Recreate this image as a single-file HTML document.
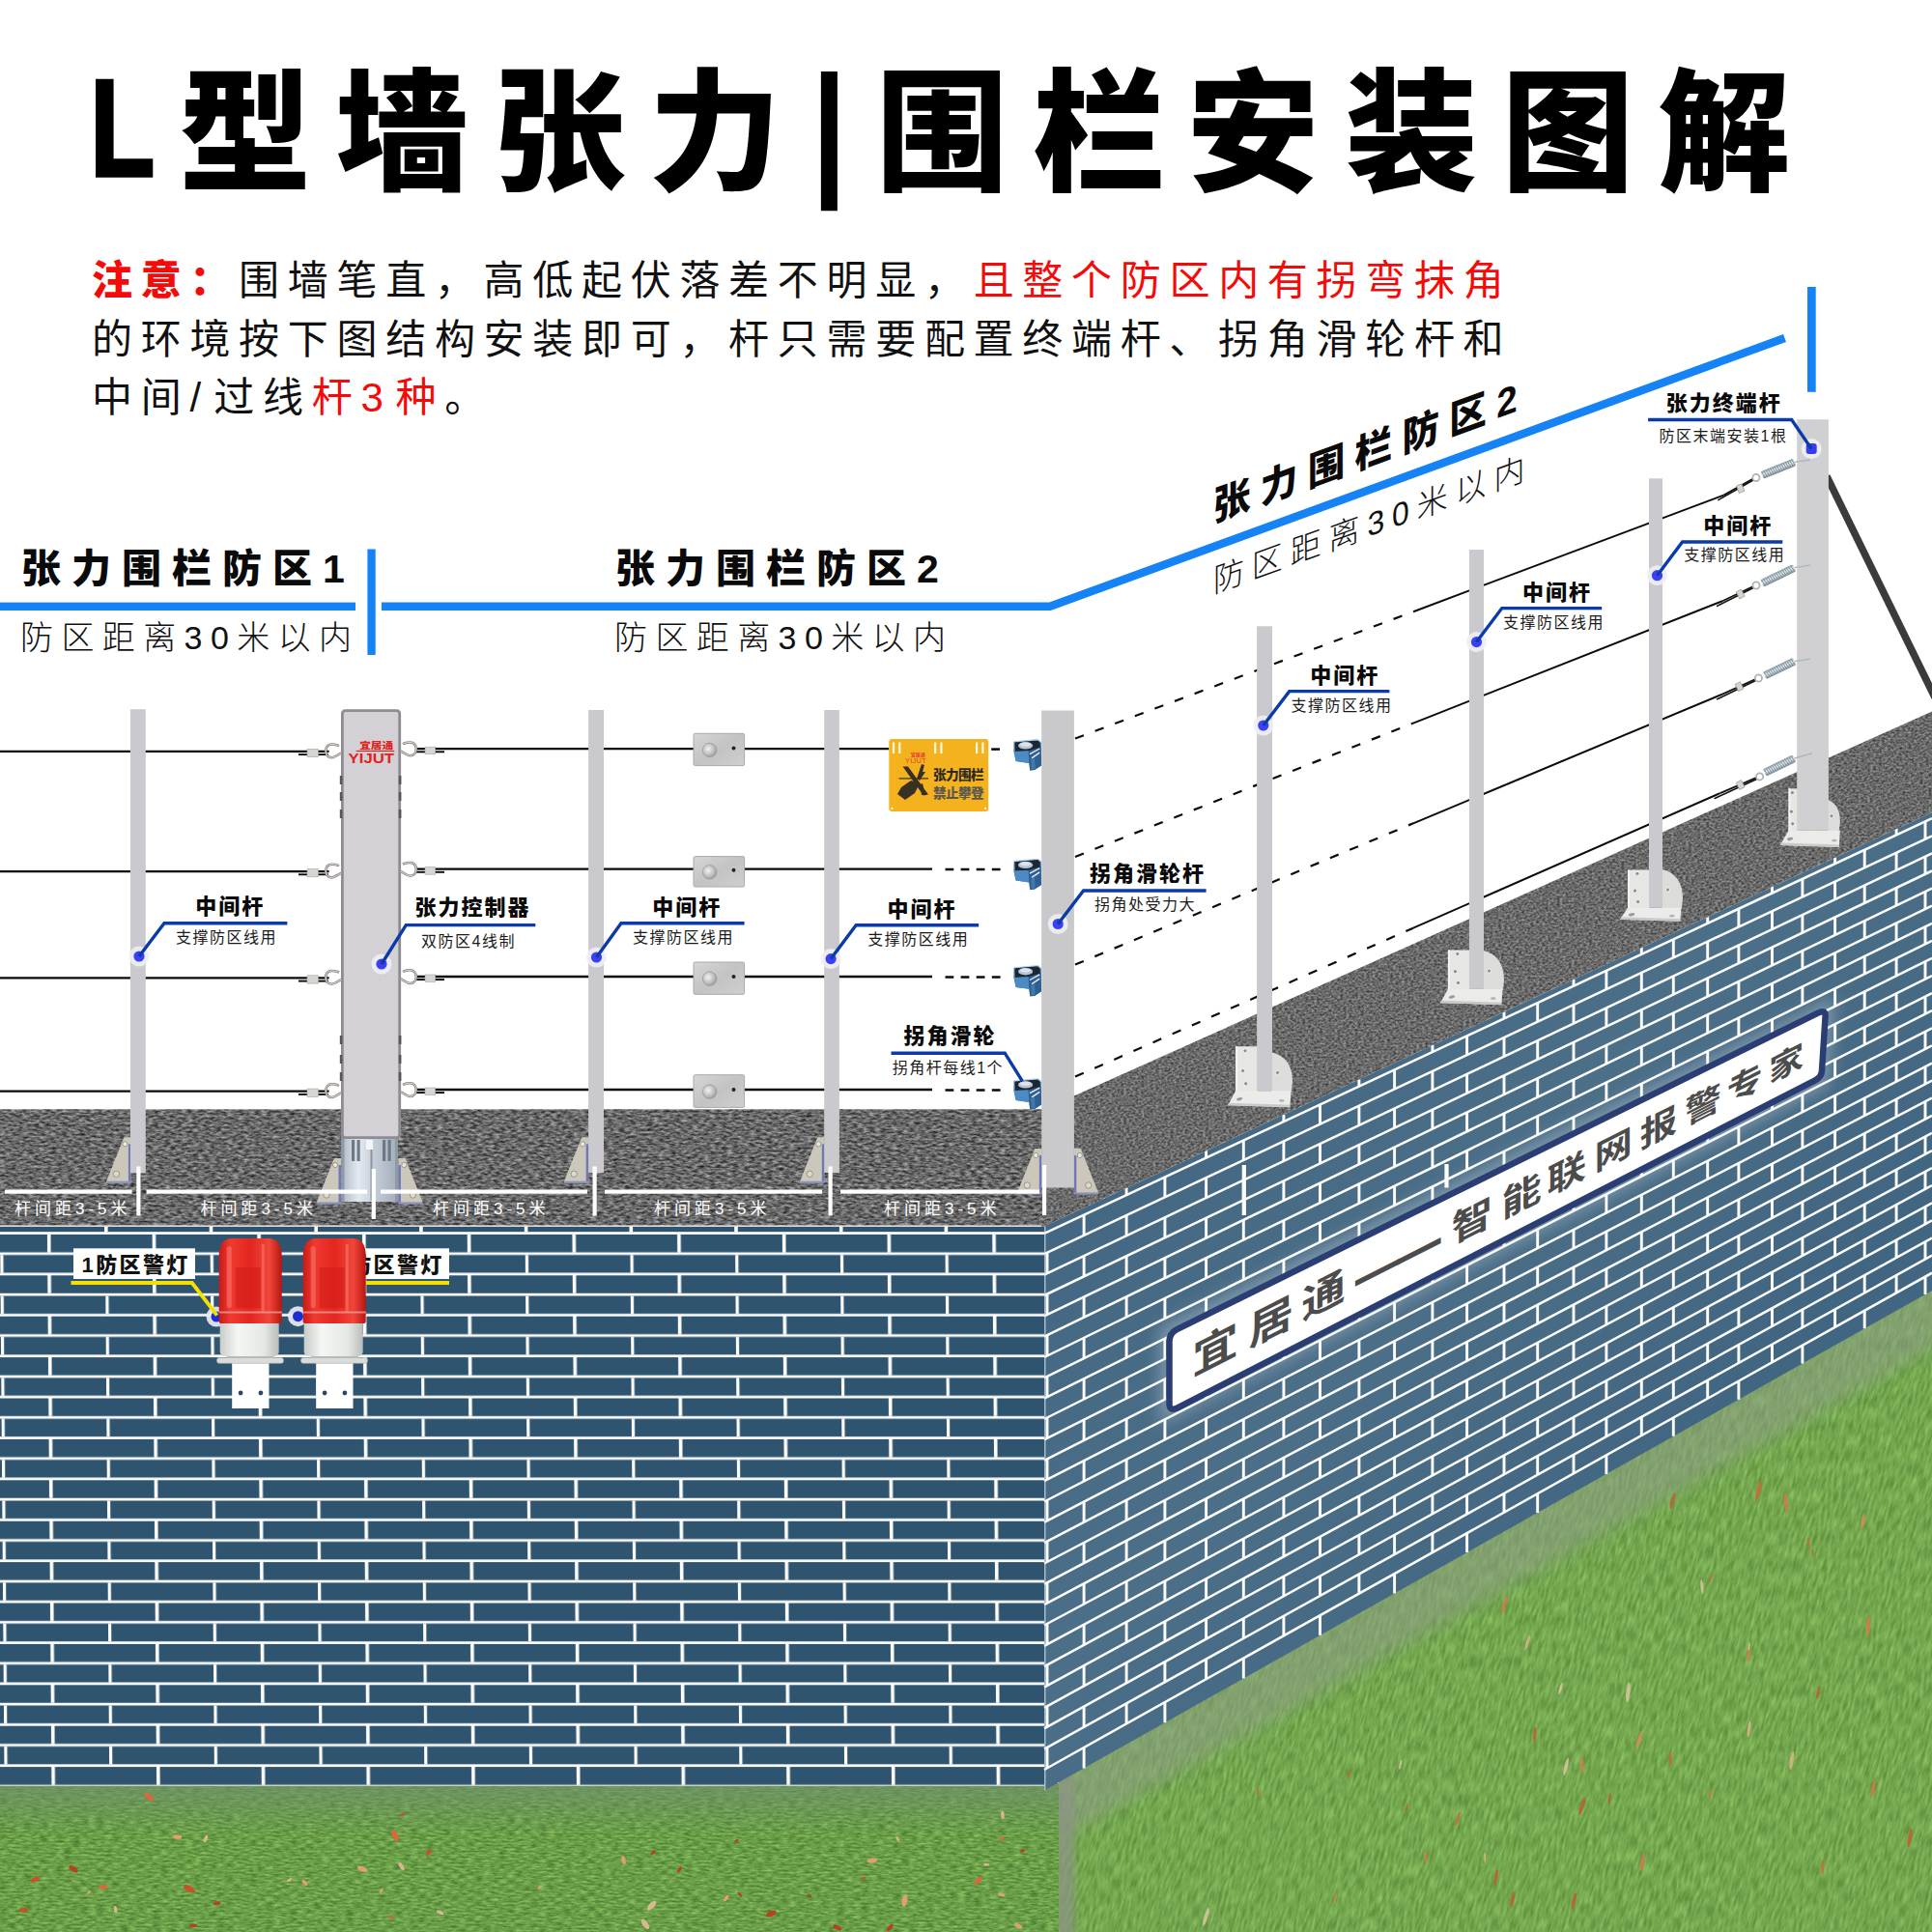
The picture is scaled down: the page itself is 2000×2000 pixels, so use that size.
<!DOCTYPE html>
<html lang="zh-CN">
<head>
<meta charset="utf-8">
<title>L型墙张力围栏安装图解</title>
<style>
html,body{margin:0;padding:0;background:#fff;}
body{width:2000px;height:2000px;overflow:hidden;font-family:'Liberation Sans','Noto Sans CJK SC',sans-serif;}
svg{display:block;}
text{font-family:'Liberation Sans','Noto Sans CJK SC',sans-serif;}
.b{font-weight:700;}
.k{font-weight:900;}
</style>
</head>
<body>
<svg width="2000" height="2000" viewBox="0 0 2000 2000">
<defs>

<pattern id="brick" x="1.1" y="1277.9" width="108.7" height="42.4" patternUnits="userSpaceOnUse" patternTransform="matrix(1,0,0.0079,1,-10.1,0)">
<rect width="108.7" height="42.4" fill="#2e546f"/>
<rect x="0" y="18.5" width="108.7" height="2.7" fill="#fff"/>
<rect x="0" y="39.699999999999996" width="108.7" height="2.7" fill="#fff"/>
<rect x="47.8" y="0" width="3.6" height="18.5" fill="#fff"/>
<rect x="-1" y="21.2" width="3.2" height="18.5" fill="#fff"/>
<rect x="107.7" y="21.2" width="3.2" height="18.5" fill="#fff"/>
</pattern>
<filter id="asph" x="0" y="0" width="100%" height="100%" color-interpolation-filters="sRGB">
<feTurbulence type="fractalNoise" baseFrequency="0.17 0.42" numOctaves="3" seed="7" result="n"/>
<feColorMatrix in="n" type="matrix" values="0.8 0 0 0 0.01  0.8 0 0 0 0.01  0.8 0 0 0 0.01  0 0 0 0 1" result="g"/>
<feComposite in="g" in2="SourceGraphic" operator="in"/>
</filter>
<filter id="asph2" x="0" y="0" width="100%" height="100%" color-interpolation-filters="sRGB">
<feTurbulence type="fractalNoise" baseFrequency="0.33 0.5" numOctaves="2" seed="9" result="n"/>
<feColorMatrix in="n" type="matrix" values="0.6 0 0 0 0.115  0.6 0 0 0 0.115  0.6 0 0 0 0.115  0 0 0 0 1" result="g"/>
<feComposite in="g" in2="SourceGraphic" operator="in"/>
</filter>
<filter id="grassL" x="0" y="0" width="100%" height="100%" color-interpolation-filters="sRGB">
<feTurbulence type="fractalNoise" baseFrequency="0.12 0.5" numOctaves="3" seed="3" result="n"/>
<feColorMatrix in="n" type="matrix" values="0.4 0 0 0 0.215  0.42 0 0 0 0.41  0.3 0 0 0 0.13  0 0 0 0 1" result="g"/>
<feComposite in="g" in2="SourceGraphic" operator="in"/>
</filter>
<filter id="grassR" x="0" y="0" width="100%" height="100%" color-interpolation-filters="sRGB">
<feTurbulence type="fractalNoise" baseFrequency="0.35 0.07" numOctaves="3" seed="11" result="n"/>
<feColorMatrix in="n" type="matrix" values="0.28 0 0 0 0.315  0.3 0 0 0 0.505  0.22 0 0 0 0.2  0 0 0 0 1" result="g"/>
<feComposite in="g" in2="SourceGraphic" operator="in"/>
</filter>
<filter id="blur3"><feGaussianBlur stdDeviation="3"/></filter>
<filter id="blur8"><feGaussianBlur stdDeviation="8"/></filter>
<linearGradient id="fadeT" x1="0" y1="0" x2="0" y2="1"><stop offset="0" stop-color="#6f8f6a" stop-opacity="0.75"/><stop offset="1" stop-color="#6f8f6a" stop-opacity="0"/></linearGradient>
<linearGradient id="sheen" x1="0" y1="0" x2="1" y2="1"><stop offset="0" stop-color="#fff" stop-opacity="0"/><stop offset="0.45" stop-color="#fff" stop-opacity="0.09"/><stop offset="0.7" stop-color="#fff" stop-opacity="0.03"/><stop offset="1" stop-color="#fff" stop-opacity="0.08"/></linearGradient>
<linearGradient id="grassLg" x1="0" y1="0" x2="0" y2="1">
<stop offset="0" stop-color="#5b8f3c"/><stop offset="0.25" stop-color="#6aa43a"/><stop offset="1" stop-color="#6fa93a"/>
</linearGradient>
<linearGradient id="grassRg" x1="0" y1="0" x2="1" y2="1">
<stop offset="0" stop-color="#7fa75c"/><stop offset="0.5" stop-color="#79ad47"/><stop offset="1" stop-color="#7db046"/>
</linearGradient>
<linearGradient id="dome" x1="0" y1="0" x2="1" y2="0">
<stop offset="0" stop-color="#c81a14"/><stop offset="0.18" stop-color="#ef3a30"/><stop offset="0.5" stop-color="#e3261f"/><stop offset="0.8" stop-color="#f0463a"/><stop offset="1" stop-color="#b81510"/>
</linearGradient>
<linearGradient id="lbase" x1="0" y1="0" x2="1" y2="0">
<stop offset="0" stop-color="#c9cdca"/><stop offset="0.3" stop-color="#f4f6f4"/><stop offset="0.75" stop-color="#e4e8e5"/><stop offset="1" stop-color="#b9bdba"/>
</linearGradient>
<linearGradient id="alu" x1="0" y1="0" x2="1" y2="0">
<stop offset="0" stop-color="#aeb9c6"/><stop offset="0.3" stop-color="#e3e9ef"/><stop offset="0.6" stop-color="#c3ccd6"/><stop offset="1" stop-color="#a3adba"/>
</linearGradient>
<linearGradient id="plate" x1="0" y1="0" x2="1" y2="1">
<stop offset="0" stop-color="#d6d6d6"/><stop offset="0.5" stop-color="#c3c3c3"/><stop offset="1" stop-color="#cfcfcf"/>
</linearGradient>
<radialGradient id="bolt" cx="0.4" cy="0.4" r="0.7">
<stop offset="0" stop-color="#f2f2f2"/><stop offset="0.6" stop-color="#bdbdbd"/><stop offset="1" stop-color="#8e8e8e"/>
</radialGradient>
<linearGradient id="spring" x1="0" y1="0" x2="0" y2="1">
<stop offset="0" stop-color="#8fa3ad"/><stop offset="0.45" stop-color="#e4edf1"/><stop offset="1" stop-color="#7b8c95"/>
</linearGradient>
</defs>

<rect width="2000" height="2000" fill="#fff"/>
<g id="grass">
<rect x="0" y="1846" width="1100" height="154" fill="#6aa43a" filter="url(#grassL)"/>
<rect x="0" y="1846" width="1100" height="55" fill="url(#fadeT)"/>
<clipPath id="cpR"><polygon points="1096,1843.2 2000,1334 2000,2000 1096,2000"/></clipPath>
<g clip-path="url(#cpR)"><g transform="translate(1096,2000) skewX(-14)"><rect x="-200" y="-700" width="1200" height="700" fill="#74ad46" filter="url(#grassR)"/></g></g>
<g clip-path="url(#cpR)"><polygon points="1090,1838.5 2010,1320.4 2010,1390.4 1090,1908.5" fill="#8f9d8a" opacity="0.55" filter="url(#blur8)"/>
<rect x="1090" y="1840" width="22" height="170" fill="#8b9484" opacity="0.75" filter="url(#blur3)"/></g>
</g>
<g id="leaves">
<ellipse cx="674.6" cy="1972.7" rx="6.3" ry="2.8" fill="#d8b890" transform="rotate(133.2 674.6 1972.7)"/>
<ellipse cx="36.2" cy="1945.6" rx="5.1" ry="2.3" fill="#c8502a" transform="rotate(162.2 36.2 1945.6)"/>
<ellipse cx="404.7" cy="1985.1" rx="2.9" ry="1.3" fill="#d9683a" transform="rotate(44.9 404.7 1985.1)"/>
<ellipse cx="443.8" cy="1917.8" rx="4.1" ry="1.8" fill="#c8502a" transform="rotate(137.1 443.8 1917.8)"/>
<ellipse cx="154.2" cy="1860.2" rx="6" ry="2.7" fill="#d9683a" transform="rotate(37.7 154.2 1860.2)"/>
<ellipse cx="1037.1" cy="1903.3" rx="3.3" ry="1.5" fill="#d9683a" transform="rotate(157.7 1037.1 1903.3)"/>
<ellipse cx="200.3" cy="1993.2" rx="4" ry="1.8" fill="#b8401f" transform="rotate(3.9 200.3 1993.2)"/>
<ellipse cx="183.4" cy="1901.6" rx="4.9" ry="2.2" fill="#e0a070" transform="rotate(0.6 183.4 1901.6)"/>
<ellipse cx="76" cy="1934.8" rx="5.3" ry="2.4" fill="#b8401f" transform="rotate(33.3 76 1934.8)"/>
<ellipse cx="762.5" cy="1905.6" rx="2.6" ry="1.2" fill="#b8401f" transform="rotate(135 762.5 1905.6)"/>
<ellipse cx="24.4" cy="1977.2" rx="4.8" ry="2.2" fill="#c8502a" transform="rotate(1.6 24.4 1977.2)"/>
<ellipse cx="765.8" cy="1961.1" rx="3" ry="1.3" fill="#b8401f" transform="rotate(44.3 765.8 1961.1)"/>
<ellipse cx="375.2" cy="1934.8" rx="5.6" ry="2.5" fill="#e0a070" transform="rotate(19.4 375.2 1934.8)"/>
<ellipse cx="929.2" cy="1903.6" rx="2.9" ry="1.3" fill="#d8b890" transform="rotate(61.3 929.2 1903.6)"/>
<ellipse cx="394.8" cy="1957" rx="2.9" ry="1.3" fill="#e0a070" transform="rotate(123.5 394.8 1957)"/>
<ellipse cx="195.8" cy="1955.1" rx="6.5" ry="2.9" fill="#c8502a" transform="rotate(29.1 195.8 1955.1)"/>
<ellipse cx="92" cy="1958.9" rx="2.6" ry="1.2" fill="#e0a070" transform="rotate(133.3 92 1958.9)"/>
<ellipse cx="893.3" cy="1944.7" rx="2.7" ry="1.2" fill="#c8502a" transform="rotate(164.9 893.3 1944.7)"/>
<ellipse cx="866.8" cy="1995.4" rx="4.8" ry="2.1" fill="#b8401f" transform="rotate(23.9 866.8 1995.4)"/>
<ellipse cx="119.6" cy="1976.6" rx="3.7" ry="1.7" fill="#d8b890" transform="rotate(81.6 119.6 1976.6)"/>
<ellipse cx="921.2" cy="1995.6" rx="4.5" ry="2" fill="#b8401f" transform="rotate(131.3 921.2 1995.6)"/>
<ellipse cx="299.6" cy="1946.1" rx="3" ry="1.3" fill="#d8b890" transform="rotate(148 299.6 1946.1)"/>
<ellipse cx="1036.8" cy="1961.4" rx="3.9" ry="1.7" fill="#e0a070" transform="rotate(16 1036.8 1961.4)"/>
<ellipse cx="558.8" cy="1953.7" rx="2.8" ry="1.2" fill="#e0a070" transform="rotate(143.1 558.8 1953.7)"/>
<ellipse cx="751.7" cy="1965.1" rx="4" ry="1.8" fill="#e0a070" transform="rotate(126.8 751.7 1965.1)"/>
<ellipse cx="902.9" cy="1926" rx="5.4" ry="2.4" fill="#e0a070" transform="rotate(172.2 902.9 1926)"/>
<ellipse cx="703.4" cy="1935.5" rx="3.5" ry="1.6" fill="#b8401f" transform="rotate(120.9 703.4 1935.5)"/>
<ellipse cx="315.5" cy="1949" rx="3.9" ry="1.8" fill="#e0a070" transform="rotate(49.3 315.5 1949)"/>
<ellipse cx="798.2" cy="1981.2" rx="5.9" ry="2.6" fill="#b8401f" transform="rotate(156.6 798.2 1981.2)"/>
<ellipse cx="1054.3" cy="1993.7" rx="4.6" ry="2.1" fill="#e0a070" transform="rotate(29.9 1054.3 1993.7)"/>
<ellipse cx="1012.7" cy="1946.8" rx="5.4" ry="2.4" fill="#d9683a" transform="rotate(131.5 1012.7 1946.8)"/>
<ellipse cx="668" cy="1991.8" rx="6.2" ry="2.8" fill="#d8b890" transform="rotate(54.5 668 1991.8)"/>
<ellipse cx="837.8" cy="1962.4" rx="2.6" ry="1.2" fill="#b8401f" transform="rotate(28.8 837.8 1962.4)"/>
<ellipse cx="675.9" cy="1917.7" rx="3.2" ry="1.4" fill="#b8401f" transform="rotate(129.3 675.9 1917.7)"/>
<ellipse cx="1058.2" cy="1916.2" rx="2.9" ry="1.3" fill="#b8401f" transform="rotate(174.2 1058.2 1916.2)"/>
<ellipse cx="212.9" cy="1903.5" rx="4" ry="1.8" fill="#d8b890" transform="rotate(110.1 212.9 1903.5)"/>
<ellipse cx="224.7" cy="1970.4" rx="3.9" ry="1.8" fill="#b8401f" transform="rotate(171.4 224.7 1970.4)"/>
<ellipse cx="936.4" cy="1967.5" rx="6.4" ry="2.9" fill="#e0a070" transform="rotate(99 936.4 1967.5)"/>
<ellipse cx="106.9" cy="1953.4" rx="4.8" ry="2.2" fill="#d9683a" transform="rotate(172.5 106.9 1953.4)"/>
<ellipse cx="455.5" cy="1979.7" rx="4" ry="1.8" fill="#d8b890" transform="rotate(25.6 455.5 1979.7)"/>
<ellipse cx="416.5" cy="1878.4" rx="2.9" ry="1.3" fill="#c8502a" transform="rotate(147.8 416.5 1878.4)"/>
<ellipse cx="415.5" cy="1932" rx="4.7" ry="2.1" fill="#d8b890" transform="rotate(58.6 415.5 1932)"/>
<ellipse cx="409" cy="1900.2" rx="6.4" ry="2.9" fill="#d9683a" transform="rotate(68.4 409 1900.2)"/>
<ellipse cx="645.5" cy="1925.5" rx="4.5" ry="2" fill="#e0a070" transform="rotate(74.8 645.5 1925.5)"/>
<ellipse cx="1021.1" cy="1930.1" rx="3.1" ry="1.4" fill="#d8b890" transform="rotate(4.3 1021.1 1930.1)"/>
<ellipse cx="1037.9" cy="1878.8" rx="4.1" ry="1.8" fill="#d8b890" transform="rotate(86.5 1037.9 1878.8)"/>
<ellipse cx="1382.2" cy="1965.8" rx="5.7" ry="1.1" fill="#d98a5a" opacity="0.8" transform="rotate(-76.7 1382.2 1965.8)"/>
<ellipse cx="1761.8" cy="1642.3" rx="7.4" ry="1.5" fill="#e3c7a5" opacity="0.8" transform="rotate(-94.8 1761.8 1642.3)"/>
<ellipse cx="1696.9" cy="1800.7" rx="9.2" ry="1.8" fill="#d98a5a" opacity="0.8" transform="rotate(-73 1696.9 1800.7)"/>
<ellipse cx="1456.2" cy="1871" rx="4.3" ry="0.9" fill="#c05a30" opacity="0.8" transform="rotate(-76.3 1456.2 1871)"/>
<ellipse cx="1731.5" cy="1553.6" rx="8.8" ry="1.8" fill="#c05a30" opacity="0.8" transform="rotate(-74.8 1731.5 1553.6)"/>
<ellipse cx="1810.1" cy="1713" rx="8" ry="1.6" fill="#d47a4a" opacity="0.8" transform="rotate(-87.7 1810.1 1713)"/>
<ellipse cx="1700.2" cy="1927.6" rx="9.9" ry="2" fill="#d47a4a" opacity="0.8" transform="rotate(-81.9 1700.2 1927.6)"/>
<ellipse cx="1872.4" cy="1597.8" rx="6.1" ry="1.2" fill="#c9673a" opacity="0.8" transform="rotate(-90.8 1872.4 1597.8)"/>
<ellipse cx="1810.6" cy="1789.9" rx="8.5" ry="1.7" fill="#e0b58c" opacity="0.8" transform="rotate(-81.8 1810.6 1789.9)"/>
<ellipse cx="1615.6" cy="1747.8" rx="6.3" ry="1.3" fill="#e3c7a5" opacity="0.8" transform="rotate(-73.8 1615.6 1747.8)"/>
<ellipse cx="1771.3" cy="1633.1" rx="4.6" ry="0.9" fill="#c9673a" opacity="0.8" transform="rotate(-71.6 1771.3 1633.1)"/>
<ellipse cx="1849" cy="1555.4" rx="10.3" ry="2.1" fill="#d47a4a" opacity="0.8" transform="rotate(-94.9 1849 1555.4)"/>
<ellipse cx="1928.5" cy="1574.6" rx="8.3" ry="1.7" fill="#d98a5a" opacity="0.8" transform="rotate(-80.3 1928.5 1574.6)"/>
<ellipse cx="1621.1" cy="1828.8" rx="9.2" ry="1.8" fill="#e3c7a5" opacity="0.8" transform="rotate(-77 1621.1 1828.8)"/>
<ellipse cx="1637.8" cy="1869.7" rx="10.1" ry="2" fill="#c05a30" opacity="0.8" transform="rotate(-73.4 1637.8 1869.7)"/>
<ellipse cx="1449.7" cy="1826.8" rx="5" ry="1" fill="#e3c7a5" opacity="0.8" transform="rotate(-77.4 1449.7 1826.8)"/>
<ellipse cx="1685.4" cy="1751.9" rx="10.4" ry="2.1" fill="#e3c7a5" opacity="0.8" transform="rotate(-83.9 1685.4 1751.9)"/>
<ellipse cx="1976.9" cy="1902.4" rx="10" ry="2" fill="#c05a30" opacity="0.8" transform="rotate(-81.3 1976.9 1902.4)"/>
<ellipse cx="1302.1" cy="1855.2" rx="4.6" ry="0.9" fill="#c9673a" opacity="0.8" transform="rotate(-86.7 1302.1 1855.2)"/>
<ellipse cx="1882.2" cy="1752.2" rx="7.2" ry="1.4" fill="#c05a30" opacity="0.8" transform="rotate(-79.7 1882.2 1752.2)"/>
<ellipse cx="1557.4" cy="1661" rx="9.6" ry="1.9" fill="#d47a4a" opacity="0.8" transform="rotate(-70.7 1557.4 1661)"/>
<ellipse cx="1476.2" cy="1922.4" rx="7" ry="1.4" fill="#d47a4a" opacity="0.8" transform="rotate(-89.9 1476.2 1922.4)"/>
<ellipse cx="1248.4" cy="1984.4" rx="9.7" ry="1.9" fill="#e3c7a5" opacity="0.8" transform="rotate(-73.5 1248.4 1984.4)"/>
<ellipse cx="1939.1" cy="1851.3" rx="9.6" ry="1.9" fill="#d47a4a" opacity="0.8" transform="rotate(-79.5 1939.1 1851.3)"/>
<ellipse cx="1854.8" cy="1822.6" rx="9.6" ry="1.9" fill="#e0b58c" opacity="0.8" transform="rotate(-80.8 1854.8 1822.6)"/>
<ellipse cx="1588.8" cy="1795.1" rx="8" ry="1.6" fill="#c05a30" opacity="0.8" transform="rotate(-88.5 1588.8 1795.1)"/>
<ellipse cx="1565.5" cy="1966.7" rx="8.6" ry="1.7" fill="#c05a30" opacity="0.8" transform="rotate(-78.7 1565.5 1966.7)"/>
<ellipse cx="1548.7" cy="1943.1" rx="8.3" ry="1.7" fill="#c05a30" opacity="0.8" transform="rotate(-80.7 1548.7 1943.1)"/>
<ellipse cx="1887" cy="1932.7" rx="7.3" ry="1.5" fill="#c9673a" opacity="0.8" transform="rotate(-83.8 1887 1932.7)"/>
<ellipse cx="1934" cy="1683.7" rx="10.6" ry="2.1" fill="#d47a4a" opacity="0.8" transform="rotate(-87.2 1934 1683.7)"/>
<ellipse cx="1537.2" cy="1922.7" rx="5.1" ry="1" fill="#e0b58c" opacity="0.8" transform="rotate(-89.6 1537.2 1922.7)"/>
<ellipse cx="1396.9" cy="1835.9" rx="5.1" ry="1" fill="#c9673a" opacity="0.8" transform="rotate(-75 1396.9 1835.9)"/>
<ellipse cx="1637.4" cy="1826.9" rx="8.3" ry="1.7" fill="#d47a4a" opacity="0.8" transform="rotate(-92.8 1637.4 1826.9)"/>
<ellipse cx="1771" cy="1857.5" rx="5.1" ry="1" fill="#d47a4a" opacity="0.8" transform="rotate(-76 1771 1857.5)"/>
<ellipse cx="1666.2" cy="1861.8" rx="5.9" ry="1.2" fill="#c05a30" opacity="0.8" transform="rotate(-81.5 1666.2 1861.8)"/>
<ellipse cx="1810.8" cy="1704.3" rx="4.3" ry="0.9" fill="#e3c7a5" opacity="0.8" transform="rotate(-83.7 1810.8 1704.3)"/>
<ellipse cx="1629.3" cy="1967.9" rx="9" ry="1.8" fill="#c05a30" opacity="0.8" transform="rotate(-75.9 1629.3 1967.9)"/>
<ellipse cx="1729" cy="1820.8" rx="7.5" ry="1.5" fill="#c9673a" opacity="0.8" transform="rotate(-89.5 1729 1820.8)"/>
<ellipse cx="1581.3" cy="1700.4" rx="7.7" ry="1.5" fill="#e0b58c" opacity="0.8" transform="rotate(-72.1 1581.3 1700.4)"/>
<ellipse cx="1820.6" cy="1543.2" rx="10.9" ry="2.2" fill="#c9673a" opacity="0.8" transform="rotate(-74 1820.6 1543.2)"/>
<ellipse cx="1876.5" cy="1606.8" rx="4.1" ry="0.8" fill="#c05a30" opacity="0.8" transform="rotate(-83.5 1876.5 1606.8)"/>
<ellipse cx="1508.9" cy="1882.5" rx="7.7" ry="1.5" fill="#c9673a" opacity="0.8" transform="rotate(-73.3 1508.9 1882.5)"/>
</g>
<g id="frontwall">
<rect x="0" y="1268" width="1081" height="580.6" fill="url(#brick)"/>
<rect x="0" y="1268" width="1081" height="9.9" fill="#2e546f"/>
<rect x="0" y="1268" width="1081" height="1.8" fill="#fff"/>
<rect x="0" y="1275.2" width="1081" height="2.7" fill="#fff"/>
<rect x="108" y="1269.8" width="3.6" height="5.5" fill="#fff"/>
<rect x="216.7" y="1269.8" width="3.6" height="5.5" fill="#fff"/>
<rect x="325.4" y="1269.8" width="3.6" height="5.5" fill="#fff"/>
<rect x="434.1" y="1269.8" width="3.6" height="5.5" fill="#fff"/>
<rect x="542.8" y="1269.8" width="3.6" height="5.5" fill="#fff"/>
<rect x="651.5" y="1269.8" width="3.6" height="5.5" fill="#fff"/>
<rect x="760.2" y="1269.8" width="3.6" height="5.5" fill="#fff"/>
<rect x="868.9" y="1269.8" width="3.6" height="5.5" fill="#fff"/>
<rect x="977.6" y="1269.8" width="3.6" height="5.5" fill="#fff"/>
</g>
<g id="sidewall">
<polygon points="1081,1269.5 2000,840.9 2000,1336 1081,1853.6" fill="#3b617d"/>
<path d="M1081,1276.9L2000,847.2M1081,1298.2L2000,865.3M1081,1319.6L2000,883.4M1081,1341L2000,901.5M1081,1362.3L2000,919.6M1081,1383.7L2000,937.7M1081,1405L2000,955.8M1081,1426.3L2000,973.9M1081,1447.7L2000,991.9M1081,1469L2000,1010M1081,1490.4L2000,1028.1M1081,1511.8L2000,1046.2M1081,1533.1L2000,1064.3M1081,1554.5L2000,1082.4M1081,1575.8L2000,1100.5M1081,1597.2L2000,1118.6M1081,1618.5L2000,1136.7M1081,1639.8L2000,1154.8M1081,1661.2L2000,1172.9M1081,1682.5L2000,1191M1081,1703.9L2000,1209.1M1081,1725.2L2000,1227.2M1081,1746.6L2000,1245.3M1081,1767.9L2000,1263.4M1081,1789.3L2000,1281.5M1081,1810.7L2000,1299.6M1081,1832L2000,1317.7" stroke="#fff" stroke-width="2.5" fill="none"/>
<path d="M1166.1,1229.8V1237.1M1248.6,1191.3V1198.5M1328.9,1153.9V1161M1406.9,1117.5V1124.5M1482.9,1082V1088.9M1557,1047.5V1054.3M1629,1013.9V1020.6M1699.3,981.1V987.8M1767.7,949.2V955.8M1834.5,918.1V924.6M1899.6,887.7V894.1M1963.1,858.1V864.4M1122.1,1257.7V1278.9M1205.9,1218.5V1239.4M1287.3,1180.4V1201.1M1366.5,1143.4V1163.7M1443.6,1107.4V1127.4M1518.6,1072.3V1092.1M1591.7,1038.1V1057.6M1662.9,1004.8V1024.1M1732.3,972.4V991.4M1799.9,940.7V959.5M1865.9,909.9V928.5M1930.2,879.8V898.2M1993,850.5V868.6M1084,1296.8V1318.2M1166.1,1258.2V1279.2M1248.6,1219.3V1240M1328.9,1181.5V1201.9M1406.9,1144.7V1164.9M1482.9,1108.9V1128.8M1557,1074V1093.7M1629,1040V1059.5M1699.3,1007V1026.1M1767.7,974.7V993.6M1834.5,943.2V961.9M1899.6,912.6V931M1963.1,882.6V900.9M1122.1,1300.1V1321.3M1205.9,1260.3V1281.2M1287.3,1221.7V1242.3M1366.5,1184.1V1204.4M1443.6,1147.5V1167.6M1518.6,1111.9V1131.7M1591.7,1077.2V1096.7M1662.9,1043.4V1062.7M1732.3,1010.5V1029.5M1799.9,978.3V997.2M1865.9,947V965.6M1930.2,916.5V934.8M1993,886.7V904.8M1084,1339.5V1360.8M1166.1,1300.3V1321.3M1248.6,1260.8V1281.6M1328.9,1222.4V1242.9M1406.9,1185.1V1205.3M1482.9,1148.7V1168.7M1557,1113.3V1133M1629,1078.9V1098.3M1699.3,1045.3V1064.4M1767.7,1012.5V1031.5M1834.5,980.6V999.3M1899.6,949.5V967.9M1963.1,919.1V937.3M1122.1,1342.5V1363.7M1205.9,1302.1V1323.1M1287.3,1262.9V1283.5M1366.5,1224.8V1245.1M1443.6,1187.6V1207.7M1518.6,1151.5V1171.3M1591.7,1116.3V1135.8M1662.9,1082V1101.3M1732.3,1048.5V1067.6M1799.9,1016V1034.8M1865.9,984.2V1002.8M1930.2,953.2V971.5M1993,922.9V941.1M1084,1382.2V1403.5M1166.1,1342.4V1363.4M1248.6,1302.3V1323.1M1328.9,1263.4V1283.8M1406.9,1225.5V1245.7M1482.9,1188.6V1208.5M1557,1152.7V1172.3M1629,1117.7V1137.1M1699.3,1083.6V1102.8M1767.7,1050.4V1069.3M1834.5,1018V1036.7M1899.6,986.4V1004.8M1963.1,955.6V973.8M1122.1,1384.9V1406.1M1205.9,1344V1364.9M1287.3,1304.2V1324.8M1366.5,1265.4V1285.8M1443.6,1227.8V1247.8M1518.6,1191.1V1210.9M1591.7,1155.4V1174.9M1662.9,1120.6V1139.8M1732.3,1086.6V1105.7M1799.9,1053.6V1072.4M1865.9,1021.3V1039.9M1930.2,989.9V1008.2M1993,959.2V977.3M1084,1424.9V1446.2M1166.1,1384.5V1405.5M1248.6,1343.8V1364.6M1328.9,1304.3V1324.8M1406.9,1265.9V1286.1M1482.9,1228.4V1248.4M1557,1192V1211.7M1629,1156.5V1175.9M1699.3,1121.9V1141.1M1767.7,1088.2V1107.1M1834.5,1055.3V1074M1899.6,1023.3V1041.7M1963.1,992V1010.2M1122.1,1427.3V1448.5M1205.9,1385.8V1406.7M1287.3,1345.4V1366M1366.5,1306.1V1326.5M1443.6,1267.9V1288M1518.6,1230.7V1250.5M1591.7,1194.4V1214M1662.9,1159.1V1178.4M1732.3,1124.7V1143.8M1799.9,1091.2V1110M1865.9,1058.5V1077M1930.2,1026.6V1044.9M1993,995.4V1013.6M1084,1467.5V1488.9M1166.1,1426.6V1447.6M1248.6,1385.3V1406.1M1328.9,1345.3V1365.7M1406.9,1306.3V1326.5M1482.9,1268.3V1288.2M1557,1231.3V1251M1629,1195.3V1214.7M1699.3,1160.2V1179.4M1767.7,1126V1145M1834.5,1092.7V1111.4M1899.6,1060.2V1078.6M1963.1,1028.5V1046.7M1122.1,1469.7V1490.9M1205.9,1427.6V1448.5M1287.3,1386.6V1407.3M1366.5,1346.8V1367.1M1443.6,1308V1328.1M1518.6,1270.3V1290.1M1591.7,1233.5V1253.1M1662.9,1197.7V1217M1732.3,1162.8V1181.9M1799.9,1128.8V1147.6M1865.9,1095.6V1114.2M1930.2,1063.3V1081.6M1993,1031.7V1049.8M1084,1510.2V1531.6M1166.1,1468.7V1489.7M1248.6,1426.9V1447.6M1328.9,1386.2V1406.7M1406.9,1346.6V1366.8M1482.9,1308.1V1328.1M1557,1270.7V1290.3M1629,1234.1V1253.6M1699.3,1198.6V1217.7M1767.7,1163.9V1182.8M1834.5,1130.1V1148.8M1899.6,1097.1V1115.5M1963.1,1064.9V1083.1M1122.1,1512.1V1533.3M1205.9,1469.4V1490.3M1287.3,1427.9V1448.5M1366.5,1387.5V1407.8M1443.6,1348.2V1368.2M1518.6,1309.9V1329.7M1591.7,1272.6V1292.1M1662.9,1236.3V1255.6M1732.3,1200.9V1219.9M1799.9,1166.4V1185.2M1865.9,1132.8V1151.3M1930.2,1099.9V1118.3M1993,1067.9V1086M1084,1552.9V1574.2M1166.1,1510.7V1531.8M1248.6,1468.4V1489.1M1328.9,1427.1V1447.6M1406.9,1387V1407.2M1482.9,1348V1367.9M1557,1310V1329.7M1629,1273V1292.4M1699.3,1236.9V1256M1767.7,1201.7V1220.6M1834.5,1167.4V1186.1M1899.6,1134V1152.4M1963.1,1101.4V1119.6M1122.1,1554.5V1575.7M1205.9,1511.2V1532.1M1287.3,1469.1V1489.7M1366.5,1428.2V1448.5M1443.6,1388.3V1408.4M1518.6,1349.5V1369.3M1591.7,1311.7V1331.2M1662.9,1274.9V1294.2M1732.3,1239V1258M1799.9,1204V1222.8M1865.9,1169.9V1188.5M1930.2,1136.6V1155M1993,1104.2V1122.3M1084,1595.6V1616.9M1166.1,1552.8V1573.9M1248.6,1509.9V1530.6M1328.9,1468.1V1488.6M1406.9,1427.4V1447.6M1482.9,1387.9V1407.8M1557,1349.3V1369M1629,1311.8V1331.2M1699.3,1275.2V1294.4M1767.7,1239.6V1258.5M1834.5,1204.8V1223.5M1899.6,1170.9V1189.4M1963.1,1137.8V1156.1M1122.1,1596.9V1618.1M1205.9,1553V1573.9M1287.3,1510.4V1531M1366.5,1468.8V1489.2M1443.6,1428.4V1448.5M1518.6,1389.1V1408.9M1591.7,1350.8V1370.3M1662.9,1313.5V1332.7M1732.3,1277.1V1296.1M1799.9,1241.6V1260.4M1865.9,1207V1225.6M1930.2,1173.3V1191.7M1993,1140.4V1158.5M1084,1638.2V1659.6M1166.1,1594.9V1616M1248.6,1551.4V1572.2M1328.9,1509V1529.5M1406.9,1467.8V1488M1482.9,1427.7V1447.6M1557,1388.7V1408.3M1629,1350.6V1370M1699.3,1313.5V1332.7M1767.7,1277.4V1296.3M1834.5,1242.2V1260.9M1899.6,1207.8V1226.3M1963.1,1174.3V1192.5M1122.1,1639.3V1660.5M1205.9,1594.9V1615.8M1287.3,1551.6V1572.2M1366.5,1509.5V1529.9M1443.6,1468.6V1488.6M1518.6,1428.7V1448.5M1591.7,1389.9V1409.4M1662.9,1352V1371.3M1732.3,1315.2V1334.2M1799.9,1279.2V1298M1865.9,1244.2V1262.8M1930.2,1210V1228.3M1993,1176.6V1194.8M1084,1680.9V1702.3M1166.1,1637V1658.1M1248.6,1592.9V1613.7M1328.9,1550V1570.5M1406.9,1508.2V1528.4M1482.9,1467.6V1487.5M1557,1428V1447.6M1629,1389.4V1408.8M1699.3,1351.9V1371M1767.7,1315.2V1334.2M1834.5,1279.5V1298.2M1899.6,1244.7V1263.2M1963.1,1210.7V1229M1122.1,1681.8V1703M1205.9,1636.7V1657.6M1287.3,1592.8V1613.5M1366.5,1550.2V1570.5M1443.6,1508.7V1528.8M1518.6,1468.3V1488.1M1591.7,1428.9V1448.5M1662.9,1390.6V1409.9M1732.3,1353.3V1372.3M1799.9,1316.8V1335.6M1865.9,1281.3V1299.9M1930.2,1246.7V1265M1993,1212.9V1231M1084,1723.6V1744.9M1166.1,1679.1V1700.2M1248.6,1634.4V1655.2M1328.9,1590.9V1611.4M1406.9,1548.6V1568.8M1482.9,1507.4V1527.3M1557,1467.3V1487M1629,1428.2V1447.7M1699.3,1390.2V1409.3M1767.7,1353.1V1372M1834.5,1316.9V1335.6M1899.6,1281.6V1300.1M1963.1,1247.2V1265.4M1122.1,1724.2V1745.4M1205.9,1678.5V1699.4M1287.3,1634.1V1654.7M1366.5,1590.9V1611.2M1443.6,1548.8V1568.9M1518.6,1507.9V1527.7M1591.7,1468V1487.6M1662.9,1429.2V1448.5M1732.3,1391.3V1410.4M1799.9,1354.5V1373.3M1865.9,1318.5V1337M1930.2,1283.4V1301.7M1993,1249.1V1267.3M1084,1766.3V1787.6M1166.1,1721.2V1742.3M1248.6,1675.9V1696.7M1328.9,1631.9V1652.3M1406.9,1589V1609.2M1482.9,1547.3V1567.2M1557,1506.6V1526.3M1629,1467.1V1486.5M1699.3,1428.5V1447.7M1767.7,1390.9V1409.8M1834.5,1354.3V1372.9M1899.6,1318.5V1337M1963.1,1283.6V1301.9M1122.1,1766.6V1787.8M1205.9,1720.3V1741.2M1287.3,1675.3V1695.9M1366.5,1631.6V1651.9M1443.6,1589V1609M1518.6,1547.5V1567.3M1591.7,1507.1V1526.7M1662.9,1467.8V1487.1M1732.3,1429.4V1448.5M1799.9,1392.1V1410.9M1865.9,1355.6V1374.2M1930.2,1320.1V1338.4M1993,1285.4V1303.5M1084,1809V1830.3M1166.1,1763.3V1784.4M1248.6,1717.4V1738.2M1328.9,1672.8V1693.3M1406.9,1629.4V1649.6M1482.9,1587.1V1607.1M1557,1546V1565.6M1629,1505.9V1525.3M1699.3,1466.8V1486M1767.7,1428.8V1447.7M1834.5,1391.6V1410.3M1899.6,1355.4V1373.9M1963.1,1320.1V1338.3M1122.1,1809V1830.4M1205.9,1762.1V1783.3M1287.3,1716.6V1737.4M1366.5,1672.2V1692.8M1443.6,1629.1V1649.4M1518.6,1587.1V1607.1M1591.7,1546.2V1566M1662.9,1506.4V1525.9M1732.3,1467.5V1486.8M1799.9,1429.7V1448.7M1865.9,1392.8V1411.6M1930.2,1356.8V1375.3M1993,1321.6V1340" stroke="#fff" stroke-width="2.9" fill="none"/>
<polygon points="1081,1269.5 2000,840.9 2000,1336 1081,1853.6" fill="url(#sheen)"/>
<line x1="1081.8" y1="1269.5" x2="1081.8" y2="1853.6" stroke="#dfe7ec" stroke-width="1.2" opacity="0.8"/>
</g>
<g id="asphaltS" filter="url(#asph2)">
<polygon points="1078,1150 1081,1148.3 2000,736.5 2000,840.9 1081,1269.5 1078,1270" fill="#676767"/>
</g>
<g id="asphaltF" filter="url(#asph)">
<rect x="0" y="1148.3" width="1081" height="120.2" fill="#676767"/>
</g>
<g id="wiresF" stroke="#0a0a0a" stroke-width="2.3" fill="none">
<line x1="0" y1="777.9" x2="340.6" y2="777.9"/>
<line x1="309" y1="781.1" x2="340" y2="781.1" stroke-width="1.9"/>
<line x1="0" y1="902.1" x2="340.6" y2="902.1"/>
<line x1="309" y1="905.3000000000001" x2="340" y2="905.3000000000001" stroke-width="1.9"/>
<line x1="0" y1="1012.4" x2="340.6" y2="1012.4"/>
<line x1="309" y1="1015.6" x2="340" y2="1015.6" stroke-width="1.9"/>
<line x1="0" y1="1129.7" x2="340.6" y2="1129.7"/>
<line x1="309" y1="1132.9" x2="340" y2="1132.9" stroke-width="1.9"/>
<line x1="430" y1="775.2" x2="920.3" y2="775.2"/>
<line x1="430" y1="778.3000000000001" x2="460" y2="778.3000000000001" stroke-width="1.9"/>
<line x1="1026.2" y1="775.6" x2="1037" y2="775.6" stroke-dasharray="8.8 7.3" stroke-width="2.5"/>
<line x1="430" y1="899.7" x2="965" y2="899.7"/>
<line x1="430" y1="902.8000000000001" x2="460" y2="902.8000000000001" stroke-width="1.9"/>
<line x1="978.5" y1="900.1" x2="1037" y2="900.1" stroke-dasharray="8.8 7.3" stroke-width="2.5"/>
<line x1="430" y1="1011" x2="965" y2="1011"/>
<line x1="430" y1="1014.1" x2="460" y2="1014.1" stroke-width="1.9"/>
<line x1="978.5" y1="1011.4" x2="1037" y2="1011.4" stroke-dasharray="8.8 7.3" stroke-width="2.5"/>
<line x1="430" y1="1128" x2="965" y2="1128"/>
<line x1="430" y1="1131.1" x2="460" y2="1131.1" stroke-width="1.9"/>
<line x1="978.5" y1="1128.4" x2="1037" y2="1128.4" stroke-dasharray="8.8 7.3" stroke-width="2.5"/>
</g>
<g id="wiresS" stroke="#0a0a0a" fill="none">
<line x1="1113" y1="764.5" x2="1463" y2="633.2" stroke-width="2.2" stroke-dasharray="9.5 12.5"/>
<line x1="1463" y1="633.2" x2="1784.3" y2="512.6" stroke-width="2"/>
<line x1="1113" y1="886.9" x2="1463" y2="748.6" stroke-width="2.2" stroke-dasharray="9.5 12.5"/>
<line x1="1463" y1="748.6" x2="1783" y2="622.2" stroke-width="2"/>
<line x1="1113" y1="998.6" x2="1463" y2="852.3" stroke-width="2.2" stroke-dasharray="9.5 12.5"/>
<line x1="1463" y1="852.3" x2="1783" y2="718.6" stroke-width="2"/>
<line x1="1113" y1="1114.6" x2="1463" y2="960.7" stroke-width="2.2" stroke-dasharray="9.5 12.5"/>
<line x1="1463" y1="960.7" x2="1780.6" y2="821.1" stroke-width="2"/>
</g>
<line x1="1891" y1="493" x2="2003" y2="722" stroke="#3b3b3b" stroke-width="7.5"/>
<g id="brF">
<polygon points="135.4,1177.3 128.4,1177.3 110.4,1222.3 110.4,1224.3 135.4,1224.3" fill="#cbc7bb"/>
<polygon points="135.4,1184.3 132.9,1184.3 132.9,1224.3 135.4,1224.3" fill="#6f79b5"/>
<polygon points="135.4,1222.7 110.4,1222.7 110.4,1224.9 135.4,1224.9" fill="#8c93bd"/>
<circle cx="129.4" cy="1184.3" r="2.6" fill="#e9e6dc" stroke="#8a8678" stroke-width="0.8"/>
<circle cx="120.4" cy="1215.3" r="3.2" fill="#ddd9cd" stroke="#8a8678" stroke-width="0.8"/>
<polygon points="609.2,1177.3 602.2,1177.3 584.2,1222.3 584.2,1224.3 609.2,1224.3" fill="#cbc7bb"/>
<polygon points="609.2,1184.3 606.7,1184.3 606.7,1224.3 609.2,1224.3" fill="#6f79b5"/>
<polygon points="609.2,1222.7 584.2,1222.7 584.2,1224.9 609.2,1224.9" fill="#8c93bd"/>
<circle cx="603.2" cy="1184.3" r="2.6" fill="#e9e6dc" stroke="#8a8678" stroke-width="0.8"/>
<circle cx="594.2" cy="1215.3" r="3.2" fill="#ddd9cd" stroke="#8a8678" stroke-width="0.8"/>
<polygon points="853.3,1177.3 846.3,1177.3 828.3,1222.3 828.3,1224.3 853.3,1224.3" fill="#cbc7bb"/>
<polygon points="853.3,1184.3 850.8,1184.3 850.8,1224.3 853.3,1224.3" fill="#6f79b5"/>
<polygon points="853.3,1222.7 828.3,1222.7 828.3,1224.9 853.3,1224.9" fill="#8c93bd"/>
<circle cx="847.3" cy="1184.3" r="2.6" fill="#e9e6dc" stroke="#8a8678" stroke-width="0.8"/>
<circle cx="838.3" cy="1215.3" r="3.2" fill="#ddd9cd" stroke="#8a8678" stroke-width="0.8"/>
<polygon points="1078.3,1189 1071.3,1189 1053.3,1234 1053.3,1236 1078.3,1236" fill="#cbc7bb"/>
<polygon points="1078.3,1196 1075.8,1196 1075.8,1236 1078.3,1236" fill="#6f79b5"/>
<polygon points="1078.3,1234.4 1053.3,1234.4 1053.3,1236.6 1078.3,1236.6" fill="#8c93bd"/>
<circle cx="1072.3" cy="1196" r="2.6" fill="#e9e6dc" stroke="#8a8678" stroke-width="0.8"/>
<circle cx="1063.3" cy="1227" r="3.2" fill="#ddd9cd" stroke="#8a8678" stroke-width="0.8"/>
<polygon points="1111.8,1189 1118.8,1189 1136.8,1234 1136.8,1236 1111.8,1236" fill="#cbc7bb"/>
<polygon points="1111.8,1196 1114.3,1196 1114.3,1236 1111.8,1236" fill="#6f79b5"/>
<polygon points="1111.8,1234.4 1136.8,1234.4 1136.8,1236.6 1111.8,1236.6" fill="#8c93bd"/>
<circle cx="1117.8" cy="1196" r="2.6" fill="#e9e6dc" stroke="#8a8678" stroke-width="0.8"/>
<circle cx="1126.8" cy="1227" r="3.2" fill="#ddd9cd" stroke="#8a8678" stroke-width="0.8"/>
</g>
<g id="postsF">
<rect x="134.9" y="734.2" width="15.9" height="480" fill="#cac9cd" />
<rect x="609.1" y="735" width="15.9" height="479" fill="#cac9cd" />
<rect x="853.2" y="735" width="15.7" height="479" fill="#cac9cd" />
<rect x="1078.2" y="735.5" width="33.7" height="494" fill="#c9c8cb" />
</g>
<g id="controller">
<rect x="353.5" y="1176" width="58.5" height="68" fill="url(#alu)" />
<rect x="353.5" y="1176" width="3" height="68" fill="#8f9aa8" />
<rect x="409" y="1176" width="3" height="68" fill="#8f9aa8" />
<rect x="364" y="1180" width="3.2" height="22" fill="#6f7a88" />
<rect x="369.5" y="1180" width="3.2" height="22" fill="#6f7a88" />
<rect x="396" y="1180" width="3.2" height="22" fill="#6f7a88" />
<rect x="401.5" y="1180" width="3.2" height="22" fill="#6f7a88" />
<rect x="379" y="1180" width="7" height="10" fill="#f4f6f8" />
<rect x="383.5" y="1190" width="2" height="53" fill="#8a95a3" />
<polygon points="353,1199 346,1199 328,1244 328,1246 353,1246" fill="#cbc7bb"/>
<polygon points="353,1206 350.5,1206 350.5,1246 353,1246" fill="#6f79b5"/>
<polygon points="353,1244.4 328,1244.4 328,1246.6 353,1246.6" fill="#8c93bd"/>
<circle cx="347" cy="1206" r="2.6" fill="#e9e6dc" stroke="#8a8678" stroke-width="0.8"/>
<circle cx="338" cy="1237" r="3.2" fill="#ddd9cd" stroke="#8a8678" stroke-width="0.8"/>
<polygon points="412.4,1199 419.4,1199 437.4,1244 437.4,1246 412.4,1246" fill="#cbc7bb"/>
<polygon points="412.4,1206 414.9,1206 414.9,1246 412.4,1246" fill="#6f79b5"/>
<polygon points="412.4,1244.4 437.4,1244.4 437.4,1246.6 412.4,1246.6" fill="#8c93bd"/>
<circle cx="418.4" cy="1206" r="2.6" fill="#e9e6dc" stroke="#8a8678" stroke-width="0.8"/>
<circle cx="427.4" cy="1237" r="3.2" fill="#ddd9cd" stroke="#8a8678" stroke-width="0.8"/>
<rect x="354.4" y="735.6" width="59.3" height="442" rx="3" fill="#d3d1d6" stroke="#8c8c91" stroke-width="2.8"/>
<rect x="351.8" y="803" width="2.6" height="9" fill="#55555a" />
<rect x="412.8" y="803" width="2.6" height="9" fill="#55555a" />
<rect x="351.8" y="820" width="2.6" height="9" fill="#55555a" />
<rect x="412.8" y="820" width="2.6" height="9" fill="#55555a" />
<rect x="351.8" y="838" width="2.6" height="9" fill="#55555a" />
<rect x="412.8" y="838" width="2.6" height="9" fill="#55555a" />
<rect x="351.8" y="1072" width="2.6" height="9" fill="#55555a" />
<rect x="412.8" y="1072" width="2.6" height="9" fill="#55555a" />
<rect x="351.8" y="1092" width="2.6" height="9" fill="#55555a" />
<rect x="412.8" y="1092" width="2.6" height="9" fill="#55555a" />
<rect x="351.8" y="1110" width="2.6" height="9" fill="#55555a" />
<rect x="412.8" y="1110" width="2.6" height="9" fill="#55555a" />
<text x="372.2" y="775.3" font-size="9.6" class="k" fill="#e0241e" textLength="35" lengthAdjust="spacingAndGlyphs">宜居通</text>
<rect x="368.7" y="776.9" width="39.5" height="1.2" fill="#e0241e" />
<text x="360.6" y="789.8" font-size="14" class="b" fill="#e0241e" textLength="47.5" lengthAdjust="spacingAndGlyphs">YIJUT</text>
</g>
<g id="hooks">
<path d="M353.2,779.8 C350.2,780.4 347.2,784.2 343.2,784.2 C339.2,784.2 337.2,780.7 337.2,777.2 C337.2,773.5 339.7,770.5 343.2,770.5 C345.7,770.5 348.2,770.9 350,771.7" fill="none" stroke="#8a8380" stroke-width="2.6" stroke-linecap="round"/>
<path d="M353.2,779.8 C350.2,780.4 347.2,784.2 343.2,784.2 C339.2,784.2 337.2,780.7 337.2,777.2 C337.2,773.5 339.7,770.5 343.2,770.5 C345.7,770.5 348.2,770.9 350,771.7" fill="none" stroke="#e8e6e4" stroke-width="0.9" stroke-linecap="round"/>
<rect x="318" y="775.3" width="11.4" height="8.3" fill="#d6d6d2" stroke="#a3a3a0" stroke-width="0.6"/>
<path d="M353.2,904 C350.2,904.6 347.2,908.4 343.2,908.4 C339.2,908.4 337.2,904.9 337.2,901.4 C337.2,897.7 339.7,894.7 343.2,894.7 C345.7,894.7 348.2,895.1 350,895.9" fill="none" stroke="#8a8380" stroke-width="2.6" stroke-linecap="round"/>
<path d="M353.2,904 C350.2,904.6 347.2,908.4 343.2,908.4 C339.2,908.4 337.2,904.9 337.2,901.4 C337.2,897.7 339.7,894.7 343.2,894.7 C345.7,894.7 348.2,895.1 350,895.9" fill="none" stroke="#e8e6e4" stroke-width="0.9" stroke-linecap="round"/>
<rect x="318" y="899.5" width="11.4" height="8.3" fill="#d6d6d2" stroke="#a3a3a0" stroke-width="0.6"/>
<path d="M353.2,1014.3 C350.2,1014.9 347.2,1018.7 343.2,1018.7 C339.2,1018.7 337.2,1015.2 337.2,1011.7 C337.2,1008 339.7,1005 343.2,1005 C345.7,1005 348.2,1005.4 350,1006.2" fill="none" stroke="#8a8380" stroke-width="2.6" stroke-linecap="round"/>
<path d="M353.2,1014.3 C350.2,1014.9 347.2,1018.7 343.2,1018.7 C339.2,1018.7 337.2,1015.2 337.2,1011.7 C337.2,1008 339.7,1005 343.2,1005 C345.7,1005 348.2,1005.4 350,1006.2" fill="none" stroke="#e8e6e4" stroke-width="0.9" stroke-linecap="round"/>
<rect x="318" y="1009.8" width="11.4" height="8.3" fill="#d6d6d2" stroke="#a3a3a0" stroke-width="0.6"/>
<path d="M353.2,1131.6 C350.2,1132.2 347.2,1136 343.2,1136 C339.2,1136 337.2,1132.5 337.2,1129 C337.2,1125.3 339.7,1122.3 343.2,1122.3 C345.7,1122.3 348.2,1122.7 350,1123.5" fill="none" stroke="#8a8380" stroke-width="2.6" stroke-linecap="round"/>
<path d="M353.2,1131.6 C350.2,1132.2 347.2,1136 343.2,1136 C339.2,1136 337.2,1132.5 337.2,1129 C337.2,1125.3 339.7,1122.3 343.2,1122.3 C345.7,1122.3 348.2,1122.7 350,1123.5" fill="none" stroke="#e8e6e4" stroke-width="0.9" stroke-linecap="round"/>
<rect x="318" y="1127.1" width="11.4" height="8.3" fill="#d6d6d2" stroke="#a3a3a0" stroke-width="0.6"/>
<path d="M414.8,777.8 C417.8,778.4 420.8,782.2 424.8,782.2 C428.8,782.2 430.8,778.7 430.8,775.2 C430.8,771.5 428.3,768.5 424.8,768.5 C422.3,768.5 419.8,768.9 418,769.7" fill="none" stroke="#8a8380" stroke-width="2.6" stroke-linecap="round"/>
<path d="M414.8,777.8 C417.8,778.4 420.8,782.2 424.8,782.2 C428.8,782.2 430.8,778.7 430.8,775.2 C430.8,771.5 428.3,768.5 424.8,768.5 C422.3,768.5 419.8,768.9 418,769.7" fill="none" stroke="#e8e6e4" stroke-width="0.9" stroke-linecap="round"/>
<rect x="440" y="773.2" width="10.7" height="7.5" fill="#d6d6d2" stroke="#a3a3a0" stroke-width="0.6"/>
<path d="M414.8,902.3 C417.8,902.9 420.8,906.7 424.8,906.7 C428.8,906.7 430.8,903.2 430.8,899.7 C430.8,896 428.3,893 424.8,893 C422.3,893 419.8,893.4 418,894.2" fill="none" stroke="#8a8380" stroke-width="2.6" stroke-linecap="round"/>
<path d="M414.8,902.3 C417.8,902.9 420.8,906.7 424.8,906.7 C428.8,906.7 430.8,903.2 430.8,899.7 C430.8,896 428.3,893 424.8,893 C422.3,893 419.8,893.4 418,894.2" fill="none" stroke="#e8e6e4" stroke-width="0.9" stroke-linecap="round"/>
<rect x="440" y="897.7" width="10.7" height="7.5" fill="#d6d6d2" stroke="#a3a3a0" stroke-width="0.6"/>
<path d="M414.8,1013.6 C417.8,1014.2 420.8,1018 424.8,1018 C428.8,1018 430.8,1014.5 430.8,1011 C430.8,1007.3 428.3,1004.3 424.8,1004.3 C422.3,1004.3 419.8,1004.7 418,1005.5" fill="none" stroke="#8a8380" stroke-width="2.6" stroke-linecap="round"/>
<path d="M414.8,1013.6 C417.8,1014.2 420.8,1018 424.8,1018 C428.8,1018 430.8,1014.5 430.8,1011 C430.8,1007.3 428.3,1004.3 424.8,1004.3 C422.3,1004.3 419.8,1004.7 418,1005.5" fill="none" stroke="#e8e6e4" stroke-width="0.9" stroke-linecap="round"/>
<rect x="440" y="1009" width="10.7" height="7.5" fill="#d6d6d2" stroke="#a3a3a0" stroke-width="0.6"/>
<path d="M414.8,1130.6 C417.8,1131.2 420.8,1135 424.8,1135 C428.8,1135 430.8,1131.5 430.8,1128 C430.8,1124.3 428.3,1121.3 424.8,1121.3 C422.3,1121.3 419.8,1121.7 418,1122.5" fill="none" stroke="#8a8380" stroke-width="2.6" stroke-linecap="round"/>
<path d="M414.8,1130.6 C417.8,1131.2 420.8,1135 424.8,1135 C428.8,1135 430.8,1131.5 430.8,1128 C430.8,1124.3 428.3,1121.3 424.8,1121.3 C422.3,1121.3 419.8,1121.7 418,1122.5" fill="none" stroke="#e8e6e4" stroke-width="0.9" stroke-linecap="round"/>
<rect x="440" y="1126" width="10.7" height="7.5" fill="#d6d6d2" stroke="#a3a3a0" stroke-width="0.6"/>
</g>
<g id="plates">
<rect x="718" y="759.3" width="52.6" height="33.3" rx="1.5" fill="url(#plate)" stroke="#a9a9a9" stroke-width="1"/>
<circle cx="734.6" cy="776.5" r="7.2" fill="url(#bolt)" stroke="#9a9a9a" stroke-width="0.8"/>
<circle cx="759.5" cy="774.5" r="2" fill="#222"/>
<rect x="718" y="886.6" width="52.6" height="31.4" rx="1.5" fill="url(#plate)" stroke="#a9a9a9" stroke-width="1"/>
<circle cx="734.6" cy="902.8" r="7.2" fill="url(#bolt)" stroke="#9a9a9a" stroke-width="0.8"/>
<circle cx="759.5" cy="900.8" r="2" fill="#222"/>
<rect x="718" y="996" width="52.6" height="33.3" rx="1.5" fill="url(#plate)" stroke="#a9a9a9" stroke-width="1"/>
<circle cx="734.6" cy="1013.1" r="7.2" fill="url(#bolt)" stroke="#9a9a9a" stroke-width="0.8"/>
<circle cx="759.5" cy="1011.1" r="2" fill="#222"/>
<rect x="718" y="1112.7" width="52.6" height="33.7" rx="1.5" fill="url(#plate)" stroke="#a9a9a9" stroke-width="1"/>
<circle cx="734.6" cy="1130.1" r="7.2" fill="url(#bolt)" stroke="#9a9a9a" stroke-width="0.8"/>
<circle cx="759.5" cy="1128.1" r="2" fill="#222"/>
</g>
<g id="sign1">
<rect x="920.3" y="765" width="102.9" height="74.9" rx="3" fill="#f4b21f"/>
<rect x="923.9" y="768.5" width="2.2" height="11.5" fill="#fff7e0" />
<rect x="930.2" y="768.5" width="2.2" height="11.5" fill="#fff7e0" />
<rect x="967" y="768.5" width="2.2" height="11.5" fill="#fff7e0" />
<rect x="973.3" y="768.5" width="2.2" height="11.5" fill="#fff7e0" />
<rect x="1010" y="768.5" width="2.2" height="11.5" fill="#fff7e0" />
<rect x="1016.3" y="768.5" width="2.2" height="11.5" fill="#fff7e0" />
<circle cx="923.4" cy="836.8" r="1.1" fill="#fff"/><circle cx="1020" cy="836.8" r="1.1" fill="#fff"/>
<text x="942.8" y="783" font-size="5" class="b" fill="#e83a2e">宜居通</text>
<text x="937" y="789.6" font-size="7.4" fill="#e83a2e" letter-spacing="0.3">YIJUT</text>
<path d="M934.5,793.5 l5.5,0 l21,29 l-5,1 z M954,791 l3,1 l-2,7 l3,0 l-6,9 l-3,-2 z M930.5,805.3 h30.5 v1.3 h-30.5z M943,808 l9,3 l-5,10 l-10,7 l-8,-6 l4,-7z M952,812 l3,-1 l3,12 l-4,0 z" fill="#3a3022"/>
<text x="966" y="807" font-size="13.6" class="k" fill="#2e2a1e" letter-spacing="-0.6">张力围栏</text>
<text x="966" y="825.5" font-size="13.6" class="k" fill="#5b5850" letter-spacing="-0.6">禁止攀登</text>
</g>
<g id="pulleys">
<g transform="translate(1049,765.4)">
<polygon points="0.6,2.4 25.5,0.2 28.8,3 29,27 22,31.6 17.2,32 16.2,24.5 2.6,22.6 0.4,12.5" fill="#3f7ab1"/>
<polygon points="1.6,3 25.3,1 27.6,3.6 27.8,9.6 16,12.2 2,12.6" fill="#1c2733"/>
<ellipse cx="12.6" cy="6.4" rx="7.6" ry="3.7" fill="#b7c4d2"/>
<ellipse cx="12.6" cy="5.2" rx="5.6" ry="2.2" fill="#dbe4ed"/>
<polygon points="0.6,12.6 15.6,11.8 16.2,24.5 2.6,22.6" fill="#4b8ac3"/>
<polygon points="15.6,11.8 28.4,8.2 29,27 22,31.6 17.2,32" fill="#2f5f90"/>
<path d="M17,15.2 L27.2,9.6 M19,19.4 L27.2,13.8" stroke="#e8eff6" stroke-width="1.4" fill="none"/>
<polygon points="18.2,20.6 22,18.6 22.6,30.4 18.8,31.2" fill="#4179ad"/>
<path d="M0.6,2.4 L25.5,0.2 L28.8,3" stroke="#b9d2e6" stroke-width="1.1" fill="none"/>
</g>
<g transform="translate(1049,889)">
<polygon points="0.6,2.4 25.5,0.2 28.8,3 29,27 22,31.6 17.2,32 16.2,24.5 2.6,22.6 0.4,12.5" fill="#3f7ab1"/>
<polygon points="1.6,3 25.3,1 27.6,3.6 27.8,9.6 16,12.2 2,12.6" fill="#1c2733"/>
<ellipse cx="12.6" cy="6.4" rx="7.6" ry="3.7" fill="#b7c4d2"/>
<ellipse cx="12.6" cy="5.2" rx="5.6" ry="2.2" fill="#dbe4ed"/>
<polygon points="0.6,12.6 15.6,11.8 16.2,24.5 2.6,22.6" fill="#4b8ac3"/>
<polygon points="15.6,11.8 28.4,8.2 29,27 22,31.6 17.2,32" fill="#2f5f90"/>
<path d="M17,15.2 L27.2,9.6 M19,19.4 L27.2,13.8" stroke="#e8eff6" stroke-width="1.4" fill="none"/>
<polygon points="18.2,20.6 22,18.6 22.6,30.4 18.8,31.2" fill="#4179ad"/>
<path d="M0.6,2.4 L25.5,0.2 L28.8,3" stroke="#b9d2e6" stroke-width="1.1" fill="none"/>
</g>
<g transform="translate(1049,999.3)">
<polygon points="0.6,2.4 25.5,0.2 28.8,3 29,27 22,31.6 17.2,32 16.2,24.5 2.6,22.6 0.4,12.5" fill="#3f7ab1"/>
<polygon points="1.6,3 25.3,1 27.6,3.6 27.8,9.6 16,12.2 2,12.6" fill="#1c2733"/>
<ellipse cx="12.6" cy="6.4" rx="7.6" ry="3.7" fill="#b7c4d2"/>
<ellipse cx="12.6" cy="5.2" rx="5.6" ry="2.2" fill="#dbe4ed"/>
<polygon points="0.6,12.6 15.6,11.8 16.2,24.5 2.6,22.6" fill="#4b8ac3"/>
<polygon points="15.6,11.8 28.4,8.2 29,27 22,31.6 17.2,32" fill="#2f5f90"/>
<path d="M17,15.2 L27.2,9.6 M19,19.4 L27.2,13.8" stroke="#e8eff6" stroke-width="1.4" fill="none"/>
<polygon points="18.2,20.6 22,18.6 22.6,30.4 18.8,31.2" fill="#4179ad"/>
<path d="M0.6,2.4 L25.5,0.2 L28.8,3" stroke="#b9d2e6" stroke-width="1.1" fill="none"/>
</g>
<g transform="translate(1049,1116.5)">
<polygon points="0.6,2.4 25.5,0.2 28.8,3 29,27 22,31.6 17.2,32 16.2,24.5 2.6,22.6 0.4,12.5" fill="#3f7ab1"/>
<polygon points="1.6,3 25.3,1 27.6,3.6 27.8,9.6 16,12.2 2,12.6" fill="#1c2733"/>
<ellipse cx="12.6" cy="6.4" rx="7.6" ry="3.7" fill="#b7c4d2"/>
<ellipse cx="12.6" cy="5.2" rx="5.6" ry="2.2" fill="#dbe4ed"/>
<polygon points="0.6,12.6 15.6,11.8 16.2,24.5 2.6,22.6" fill="#4b8ac3"/>
<polygon points="15.6,11.8 28.4,8.2 29,27 22,31.6 17.2,32" fill="#2f5f90"/>
<path d="M17,15.2 L27.2,9.6 M19,19.4 L27.2,13.8" stroke="#e8eff6" stroke-width="1.4" fill="none"/>
<polygon points="18.2,20.6 22,18.6 22.6,30.4 18.8,31.2" fill="#4179ad"/>
<path d="M0.6,2.4 L25.5,0.2 L28.8,3" stroke="#b9d2e6" stroke-width="1.1" fill="none"/>
</g>
</g>
<g id="postsS">
<polygon points="1279.1,1083.2 1302.1,1083.2 1302.1,1130.2 1279.1,1130.2" fill="#e6e6e4"/>
<polygon points="1279.1,1083.2 1281.1,1083.2 1281.1,1130.2 1279.1,1130.2" fill="#f3f3f1"/>
<path d="M1316,1089.2 Q1338,1094.2 1338,1120.2 L1336.7,1130.2 L1316,1130.2 Z" fill="#dcdcda"/>
<polygon points="1279.1,1129.2 1336.5,1129.2 1335.3,1146.2 1271.1,1144.2" fill="#ebebe9"/>
<polygon points="1271.1,1144.2 1335.3,1146.2 1335.3,1143.7 1272.1,1141.7" fill="#c9c9c7"/>
<circle cx="1289" cy="1087.8" r="2.1" fill="#8f8f8d" stroke="#f6f6f4" stroke-width="0.9"/>
<circle cx="1286.6" cy="1108.5" r="2.1" fill="#8f8f8d" stroke="#f6f6f4" stroke-width="0.9"/>
<circle cx="1289.7" cy="1121.8" r="2.1" fill="#8f8f8d" stroke="#f6f6f4" stroke-width="0.9"/>
<circle cx="1322.5" cy="1110.4" r="2.1" fill="#8f8f8d" stroke="#f6f6f4" stroke-width="0.9"/>
<ellipse cx="1283.1" cy="1137.7" rx="3.2" ry="1.6" fill="#9a9a98" transform="rotate(-12 1283.1 1137.7)"/>
<ellipse cx="1326.8" cy="1139.4" rx="2.8" ry="1.4" fill="#b4b4b2"/>
<rect x="1301.1" y="648.3" width="15.9" height="480.9" fill="#cac9cd" />
<polygon points="1498.9,983.5 1521.9,983.5 1521.9,1024.9 1498.9,1024.9" fill="#e6e6e4"/>
<polygon points="1498.9,983.5 1500.9,983.5 1500.9,1024.9 1498.9,1024.9" fill="#f3f3f1"/>
<path d="M1535,983.9 Q1557,988.9 1557,1014.9 L1555.7,1024.9 L1535,1024.9 Z" fill="#dcdcda"/>
<polygon points="1498.9,1023.9 1555.5,1023.9 1554.3,1040.2 1490.9,1038.2" fill="#ebebe9"/>
<polygon points="1490.9,1038.2 1554.3,1040.2 1554.3,1037.7 1491.9,1035.7" fill="#c9c9c7"/>
<circle cx="1508.8" cy="987.5" r="2.1" fill="#8f8f8d" stroke="#f6f6f4" stroke-width="0.9"/>
<circle cx="1506.4" cy="1005.7" r="2.1" fill="#8f8f8d" stroke="#f6f6f4" stroke-width="0.9"/>
<circle cx="1509.5" cy="1017.4" r="2.1" fill="#8f8f8d" stroke="#f6f6f4" stroke-width="0.9"/>
<circle cx="1541.5" cy="1005.1" r="2.1" fill="#8f8f8d" stroke="#f6f6f4" stroke-width="0.9"/>
<ellipse cx="1502.9" cy="1032" rx="3.2" ry="1.6" fill="#9a9a98" transform="rotate(-12 1502.9 1032)"/>
<ellipse cx="1545.8" cy="1033.7" rx="2.8" ry="1.4" fill="#b4b4b2"/>
<rect x="1520.9" y="569" width="15.1" height="454.9" fill="#cac9cd" />
<polygon points="1685,900.5 1708,900.5 1708,940.8 1685,940.8" fill="#e6e6e4"/>
<polygon points="1685,900.5 1687,900.5 1687,940.8 1685,940.8" fill="#f3f3f1"/>
<path d="M1720,899.8 Q1742,904.8 1742,930.8 L1740.7,940.8 L1720,940.8 Z" fill="#dcdcda"/>
<polygon points="1685,939.8 1740.5,939.8 1739.3,953.8 1677,951.8" fill="#ebebe9"/>
<polygon points="1677,951.8 1739.3,953.8 1739.3,951.3 1678,949.3" fill="#c9c9c7"/>
<circle cx="1694.9" cy="904.4" r="2.1" fill="#8f8f8d" stroke="#f6f6f4" stroke-width="0.9"/>
<circle cx="1692.5" cy="922.1" r="2.1" fill="#8f8f8d" stroke="#f6f6f4" stroke-width="0.9"/>
<circle cx="1695.6" cy="933.5" r="2.1" fill="#8f8f8d" stroke="#f6f6f4" stroke-width="0.9"/>
<circle cx="1726.5" cy="921" r="2.1" fill="#8f8f8d" stroke="#f6f6f4" stroke-width="0.9"/>
<ellipse cx="1689" cy="946.8" rx="3.2" ry="1.6" fill="#9a9a98" transform="rotate(-12 1689 946.8)"/>
<ellipse cx="1730.8" cy="948.2" rx="2.8" ry="1.4" fill="#b4b4b2"/>
<rect x="1707" y="495.3" width="14" height="444.5" fill="#cac9cd" />
<polygon points="1851.5,816.3 1861.2,816.3 1861.2,860.8 1851.5,860.8" fill="#e6e6e4"/>
<polygon points="1851.5,816.3 1853.5,816.3 1853.5,860.8 1851.5,860.8" fill="#f3f3f1"/>
<path d="M1891.9,827.8 Q1904.9,832.8 1904.9,850.8 L1903.6,860.8 L1891.9,860.8 Z" fill="#dcdcda"/>
<polygon points="1851.5,859.8 1904.9,859.8 1903.7,877 1842.8,875" fill="#ebebe9"/>
<polygon points="1842.8,875 1903.7,877 1903.7,874.5 1843.8,872.5" fill="#c9c9c7"/>
<circle cx="1855.4" cy="820.6" r="2.1" fill="#8f8f8d" stroke="#f6f6f4" stroke-width="0.9"/>
<circle cx="1854.5" cy="840.2" r="2.1" fill="#8f8f8d" stroke="#f6f6f4" stroke-width="0.9"/>
<circle cx="1855.7" cy="852.8" r="2.1" fill="#8f8f8d" stroke="#f6f6f4" stroke-width="0.9"/>
<circle cx="1896" cy="844.8" r="2.1" fill="#8f8f8d" stroke="#f6f6f4" stroke-width="0.9"/>
<ellipse cx="1853.1" cy="868.4" rx="3.2" ry="1.6" fill="#9a9a98" transform="rotate(-12 1853.1 868.4)"/>
<ellipse cx="1898.9" cy="870.1" rx="2.8" ry="1.4" fill="#b4b4b2"/>
<rect x="1860.2" y="434.2" width="32.7" height="425.6" fill="#d0d0d2" />
</g>
<g id="springs">
<path d="M1778.3,517.9 L1814.9,497" stroke="#111" stroke-width="1.6" fill="none"/>
<path d="M1784.3,512.6 L1814.9,495.5" stroke="#111" stroke-width="1.8" fill="none"/>
<rect x="1798.7" y="501.7" width="6" height="8" fill="#d5d5d0" stroke="#8b8b86" stroke-width="0.6" transform="rotate(-22 1801.7 505.7)"/>
<circle cx="1817.9" cy="494.5" r="3.6" fill="none" stroke="#aab4bb" stroke-width="1.8"/>
<g transform="translate(1824,492) rotate(-22)">
<rect x="0" y="-4" width="36.2" height="8" rx="2" fill="url(#spring)"/>
<path d="M1,-4l1.2,8M3.4,-4l1.2,8M5.8,-4l1.2,8M8.2,-4l1.2,8M10.6,-4l1.2,8M13,-4l1.2,8M15.4,-4l1.2,8M17.8,-4l1.2,8M20.2,-4l1.2,8M22.6,-4l1.2,8M25,-4l1.2,8M27.4,-4l1.2,8M29.8,-4l1.2,8M32.2,-4l1.2,8M34.6,-4l1.2,8" stroke="#6f8089" stroke-width="0.7" fill="none"/>
</g>
<path d="M1857.6,478.4 L1873.8,476" stroke="#aab4bb" stroke-width="1.3" fill="none"/>
<path d="M1777,627.6 L1815,608.5" stroke="#111" stroke-width="1.6" fill="none"/>
<path d="M1783,622.2 L1815,607" stroke="#111" stroke-width="1.8" fill="none"/>
<rect x="1798.7" y="611" width="6" height="8" fill="#d5d5d0" stroke="#8b8b86" stroke-width="0.6" transform="rotate(-25.7 1801.7 615)"/>
<circle cx="1818" cy="606" r="3.6" fill="none" stroke="#aab4bb" stroke-width="1.8"/>
<g transform="translate(1824,603.9) rotate(-25.7)">
<rect x="0" y="-4" width="37.3" height="8" rx="2" fill="url(#spring)"/>
<path d="M1,-4l1.2,8M3.4,-4l1.2,8M5.8,-4l1.2,8M8.2,-4l1.2,8M10.6,-4l1.2,8M13,-4l1.2,8M15.4,-4l1.2,8M17.8,-4l1.2,8M20.2,-4l1.2,8M22.6,-4l1.2,8M25,-4l1.2,8M27.4,-4l1.2,8M29.8,-4l1.2,8M32.2,-4l1.2,8M34.6,-4l1.2,8" stroke="#6f8089" stroke-width="0.7" fill="none"/>
</g>
<path d="M1857.6,587.7 L1873.8,585.2" stroke="#aab4bb" stroke-width="1.3" fill="none"/>
<path d="M1777,724.1 L1817.4,704.5" stroke="#111" stroke-width="1.6" fill="none"/>
<path d="M1783,718.6 L1817.4,703" stroke="#111" stroke-width="1.8" fill="none"/>
<rect x="1797.5" y="706.7" width="6" height="8" fill="#d5d5d0" stroke="#8b8b86" stroke-width="0.6" transform="rotate(-25.7 1800.5 710.7)"/>
<circle cx="1820.4" cy="702" r="3.6" fill="none" stroke="#aab4bb" stroke-width="1.8"/>
<g transform="translate(1826.6,699.5) rotate(-25.7)">
<rect x="0" y="-4" width="34.4" height="8" rx="2" fill="url(#spring)"/>
<path d="M1,-4l1.2,8M3.4,-4l1.2,8M5.8,-4l1.2,8M8.2,-4l1.2,8M10.6,-4l1.2,8M13,-4l1.2,8M15.4,-4l1.2,8M17.8,-4l1.2,8M20.2,-4l1.2,8M22.6,-4l1.2,8M25,-4l1.2,8M27.4,-4l1.2,8M29.8,-4l1.2,8M32.2,-4l1.2,8" stroke="#6f8089" stroke-width="0.7" fill="none"/>
</g>
<path d="M1857.6,684.6 L1873.8,682.1" stroke="#aab4bb" stroke-width="1.3" fill="none"/>
<path d="M1774.6,826.7 L1818.6,806.4" stroke="#111" stroke-width="1.6" fill="none"/>
<path d="M1780.6,821.1 L1818.6,804.9" stroke="#111" stroke-width="1.8" fill="none"/>
<rect x="1798.7" y="808.5" width="6" height="8" fill="#d5d5d0" stroke="#8b8b86" stroke-width="0.6" transform="rotate(-25.8 1801.7 812.5)"/>
<circle cx="1821.6" cy="803.9" r="3.6" fill="none" stroke="#aab4bb" stroke-width="1.8"/>
<g transform="translate(1826.6,800) rotate(-25.8)">
<rect x="0" y="-4" width="34.4" height="8" rx="2" fill="url(#spring)"/>
<path d="M1,-4l1.2,8M3.4,-4l1.2,8M5.8,-4l1.2,8M8.2,-4l1.2,8M10.6,-4l1.2,8M13,-4l1.2,8M15.4,-4l1.2,8M17.8,-4l1.2,8M20.2,-4l1.2,8M22.6,-4l1.2,8M25,-4l1.2,8M27.4,-4l1.2,8M29.8,-4l1.2,8M32.2,-4l1.2,8" stroke="#6f8089" stroke-width="0.7" fill="none"/>
</g>
<path d="M1857.6,785 L1876,779.8" stroke="#aab4bb" stroke-width="1.3" fill="none"/>
</g>
<g id="lamps">
<rect x="339" y="1292.3" width="126" height="31.7" fill="#fff" />
<text x="347.5" y="1317" font-size="22" class="k" fill="#111" letter-spacing="2.4">2防区警灯</text>
<path d="M378,1328 H465" stroke="#f4e100" stroke-width="3.8" fill="none"/>
<circle cx="224" cy="1363" r="10.5" fill="#e9ebf3" opacity="0.92"/><circle cx="224" cy="1363" r="5.5" fill="#1b2fd0"/>
<circle cx="308.5" cy="1362.7" r="10.5" fill="#e9ebf3" opacity="0.92"/><circle cx="308.5" cy="1362.7" r="5.5" fill="#1b2fd0"/>
<rect x="76" y="1292.3" width="126" height="31.7" fill="#fff" />
<text x="84.5" y="1317" font-size="22" class="k" fill="#111" letter-spacing="2.4">1防区警灯</text>
<path d="M73.5,1328 H198.8 L224.6,1361.6" stroke="#f4e100" stroke-width="3.8" fill="none" stroke-linejoin="miter"/>
<g transform="translate(226.7,0)">
<rect x="13.5" y="1411" width="38.3" height="47" fill="#fff"/>
<circle cx="22.4" cy="1442" r="2.4" fill="#2e4660"/><circle cx="43.2" cy="1442" r="2.4" fill="#2e4660"/>
<rect x="-2.2" y="1405.5" width="69" height="5.8" rx="2.5" fill="#d9dcda" stroke="#a7aaa8" stroke-width="0.6"/>
<rect x="8" y="1401" width="49" height="5" fill="#b7bbb8"/>
<path d="M1,1366 h61 v33 q0,5 -6,5 h-49 q-6,0 -6,-5z" fill="url(#lbase)"/>
<path d="M0,1300 q0,-18 14,-18 h37 q14,0 14,18 v68 q0,2 -3,2 h-59 q-3,0 -3,-2z" fill="url(#dome)"/>
<rect x="0" y="1357.5" width="65.2" height="2" fill="#f6a59d" opacity="0.7"/>
<rect x="8" y="1290" width="5" height="64" rx="2.5" fill="#ff8a80" opacity="0.45"/>
<rect x="17" y="1312" width="26" height="42" fill="#d11c16" opacity="0.55"/>
<rect x="44" y="1288" width="3" height="70" fill="#ff9b92" opacity="0.4"/>
</g>
<g transform="translate(313.7,0)">
<rect x="13.5" y="1411" width="38.3" height="47" fill="#fff"/>
<circle cx="22.4" cy="1442" r="2.4" fill="#2e4660"/><circle cx="43.2" cy="1442" r="2.4" fill="#2e4660"/>
<rect x="-2.2" y="1405.5" width="69" height="5.8" rx="2.5" fill="#d9dcda" stroke="#a7aaa8" stroke-width="0.6"/>
<rect x="8" y="1401" width="49" height="5" fill="#b7bbb8"/>
<path d="M1,1366 h61 v33 q0,5 -6,5 h-49 q-6,0 -6,-5z" fill="url(#lbase)"/>
<path d="M0,1300 q0,-18 14,-18 h37 q14,0 14,18 v68 q0,2 -3,2 h-59 q-3,0 -3,-2z" fill="url(#dome)"/>
<rect x="0" y="1357.5" width="65.2" height="2" fill="#f6a59d" opacity="0.7"/>
<rect x="8" y="1290" width="5" height="64" rx="2.5" fill="#ff8a80" opacity="0.45"/>
<rect x="17" y="1312" width="26" height="42" fill="#d11c16" opacity="0.55"/>
<rect x="44" y="1288" width="3" height="70" fill="#ff9b92" opacity="0.4"/>
</g>
</g>
<g id="dims" fill="#fff">
<rect x="5" y="1231.5" width="131.6" height="4.2" fill="#fff" />
<rect x="151.6" y="1231.5" width="228.4" height="4.2" fill="#fff" />
<rect x="394" y="1231.5" width="214" height="4.2" fill="#fff" />
<rect x="626" y="1231.5" width="225" height="4.2" fill="#fff" />
<rect x="870" y="1231.5" width="206" height="4.2" fill="#fff" />
<rect x="141.3" y="1207.5" width="4.2" height="51" fill="#fff" />
<rect x="384.7" y="1210" width="4.2" height="52" fill="#fff" />
<rect x="613.5" y="1207.5" width="4.2" height="51" fill="#fff" />
<rect x="857.5" y="1207.5" width="4.2" height="51" fill="#fff" />
<rect x="1079" y="1206" width="4.2" height="52" fill="#fff" />
<rect x="1285.7" y="1206" width="4.2" height="52" fill="#fff" />
<rect x="1495.4" y="1205" width="4.2" height="24.5" fill="#fff" />
</g>
<g id="dimtext" fill="#fff" font-size="17" letter-spacing="4">
<text x="15" y="1257">杆间距3-5米</text>
<text x="207.5" y="1257">杆间距3-5米</text>
<text x="448" y="1257">杆间距3-5米</text>
<text x="677" y="1257">杆间距3-5米</text>
<text x="915" y="1257">杆间距3-5米</text>
</g>
<g id="callouts">
<circle cx="144" cy="990" r="10.5" fill="#eeeef6" opacity="0.9"/>
<circle cx="144" cy="990" r="5.6" fill="#3f3ff2"/>
<path d="M144,990 L170,955.8 H297.4" stroke="#0b3ba8" stroke-width="3.4" fill="none"/>
<text x="202.2" y="946.1" font-size="22" class="k" fill="#0a0a0a" letter-spacing="2">中间杆</text>
<text x="182" y="975.6" font-size="16" fill="#1a1a1a" letter-spacing="1.5">支撑防区线用</text>
<circle cx="395" cy="998" r="10.5" fill="#eeeef6" opacity="0.9"/>
<circle cx="395" cy="998" r="5.6" fill="#3f3ff2"/>
<path d="M395,998 L420.3,957.6 H554.3" stroke="#0b3ba8" stroke-width="3.4" fill="none"/>
<text x="429.6" y="947.4" font-size="22" class="k" fill="#0a0a0a" letter-spacing="2">张力控制器</text>
<text x="436" y="979.6" font-size="16" fill="#1a1a1a" letter-spacing="1.5">双防区4线制</text>
<circle cx="617.5" cy="991" r="10.5" fill="#eeeef6" opacity="0.9"/>
<circle cx="617.5" cy="991" r="5.6" fill="#3f3ff2"/>
<path d="M617.5,991 L643,955.7 H770.6" stroke="#0b3ba8" stroke-width="3.4" fill="none"/>
<text x="675.2" y="946.9" font-size="22" class="k" fill="#0a0a0a" letter-spacing="2">中间杆</text>
<text x="655.1" y="976.2" font-size="16" fill="#1a1a1a" letter-spacing="1.5">支撑防区线用</text>
<circle cx="860.1" cy="992.6" r="10.5" fill="#eeeef6" opacity="0.9"/>
<circle cx="860.1" cy="992.6" r="5.6" fill="#3f3ff2"/>
<path d="M860.1,992.6 L886.2,957.8 H1013.2" stroke="#0b3ba8" stroke-width="3.4" fill="none"/>
<text x="918.4" y="948.7" font-size="22" class="k" fill="#0a0a0a" letter-spacing="2">中间杆</text>
<text x="898.2" y="977.6" font-size="16" fill="#1a1a1a" letter-spacing="1.5">支撑防区线用</text>
<circle cx="1095.2" cy="956.5" r="10.5" fill="#eeeef6" opacity="0.9"/>
<circle cx="1095.2" cy="956.5" r="5.6" fill="#3f3ff2"/>
<path d="M1095.2,956.5 L1121.6,922 H1248.6" stroke="#0b3ba8" stroke-width="3.4" fill="none"/>
<text x="1128" y="911.5" font-size="22" class="k" fill="#0a0a0a" letter-spacing="2">拐角滑轮杆</text>
<text x="1133.1" y="941.6" font-size="16" fill="#1a1a1a" letter-spacing="1.5">拐角处受力大</text>
<path d="M922.5,1090.2 H1040.2 L1058.3,1119.2" stroke="#0b3ba8" stroke-width="3.4" fill="none"/>
<text x="935.4" y="1080.3" font-size="22" class="k" fill="#0a0a0a" letter-spacing="2">拐角滑轮</text>
<text x="923.7" y="1110.6" font-size="16" fill="#1a1a1a" letter-spacing="1.5">拐角杆每线1个</text>
<circle cx="1307.8" cy="751" r="10.5" fill="#eeeef6" opacity="0.9"/>
<circle cx="1307.8" cy="751" r="5.6" fill="#3f3ff2"/>
<path d="M1307.8,751 L1334.7,715.6 H1438.4" stroke="#0b3ba8" stroke-width="3.4" fill="none"/>
<text x="1356.2" y="706.9" font-size="22" class="k" fill="#0a0a0a" letter-spacing="2">中间杆</text>
<text x="1336.4" y="735.6" font-size="16" fill="#1a1a1a" letter-spacing="1.5">支撑防区线用</text>
<circle cx="1528.5" cy="664.6" r="10.5" fill="#eeeef6" opacity="0.9"/>
<circle cx="1528.5" cy="664.6" r="5.6" fill="#3f3ff2"/>
<path d="M1528.5,664.6 L1554.8,629.6 H1658.2" stroke="#0b3ba8" stroke-width="3.4" fill="none"/>
<text x="1576.1" y="621" font-size="22" class="k" fill="#0a0a0a" letter-spacing="2">中间杆</text>
<text x="1556.1" y="649.5" font-size="16" fill="#1a1a1a" letter-spacing="1.5">支撑防区线用</text>
<circle cx="1715.5" cy="595.7" r="10.5" fill="#eeeef6" opacity="0.9"/>
<circle cx="1715.5" cy="595.7" r="5.6" fill="#3f3ff2"/>
<path d="M1715.5,595.7 L1741.6,561 H1845.3" stroke="#0b3ba8" stroke-width="3.4" fill="none"/>
<text x="1763.2" y="552.1" font-size="22" class="k" fill="#0a0a0a" letter-spacing="2">中间杆</text>
<text x="1743.2" y="580.3" font-size="16" fill="#1a1a1a" letter-spacing="1.5">支撑防区线用</text>
<circle cx="1875.2" cy="464.6" r="10.5" fill="#eeeef6" opacity="0.9"/>
<rect x="1869.7" y="459.1" width="11" height="11" rx="3" fill="#3a3af0"/>
<path d="M1706.1,434.5 H1854.7 L1875.2,464.6" stroke="#0b3ba8" stroke-width="3.4" fill="none"/>
<text x="1724.7" y="424.5" font-size="22" class="k" fill="#0a0a0a" letter-spacing="2">张力终端杆</text>
<text x="1717.6" y="456.5" font-size="16" fill="#1a1a1a" letter-spacing="1.5">防区末端安装1根</text>
</g>
<g id="zones">
<rect x="0" y="623.6" width="368" height="8.4" fill="#1583f6" />
<rect x="380.4" y="568.5" width="8.3" height="109.5" fill="#1583f6" />
<path d="M395,627.8 H1087 L1847.5,350" stroke="#1583f6" stroke-width="8.4" fill="none" stroke-linejoin="miter"/>
<rect x="1871" y="297" width="8.7" height="108.8" fill="#1583f6" />
<text x="22" y="603" font-size="41" class="k" fill="#0a0a0a" letter-spacing="11">张力围栏防区1</text>
<text x="21" y="672" font-size="34" fill="#111" letter-spacing="8.4" font-weight="300">防区距离30米以内</text>
<text x="637" y="603" font-size="41" class="k" fill="#0a0a0a" letter-spacing="11">张力围栏防区2</text>
<text x="636" y="672" font-size="34" fill="#111" letter-spacing="8.4" font-weight="300">防区距离30米以内</text>
<g transform="matrix(0.94,-0.342,0,1,1256,540)">
<text x="0" y="0" font-size="41" class="k" fill="#0a0a0a" letter-spacing="11">张力围栏防区2</text>
<text x="0" y="74" font-size="34" fill="#111" letter-spacing="8.4" font-weight="300">防区距离30米以内</text>
</g>
</g>
<g id="board">
<polygon points="1201,1374 1899,1032 1893,1124 1201,1474" fill="#dfe6ec" opacity="0.35" filter="url(#blur8)"/>
<path d="M1210.5,1389 Q1210.5,1380 1218,1376.3 L1882,1048.6 Q1890,1044.8 1889.6,1052 L1886,1108.5 Q1885.6,1115 1879,1118.4 L1219,1457.3 Q1210.5,1461.6 1210.5,1453 Z" fill="#fff" stroke="#2b3e74" stroke-width="6.5" stroke-linejoin="round"/>
<text transform="matrix(1,-0.5075,0,0.9,0,0)" class="b" fill="#4c4c4c"><tspan x="1234.3" y="2278.5" font-size="47.5">宜</tspan><tspan x="1292.4" y="2278.5" font-size="46.4">居</tspan><tspan x="1347.4" y="2278.5" font-size="45.3">通</tspan><tspan x="1404" y="2279.4" font-size="44.2" stroke="#4c4c4c" stroke-width="2.2">—</tspan><tspan x="1447" y="2279.4" font-size="43.4" stroke="#4c4c4c" stroke-width="2.2">—</tspan><tspan x="1502.8" y="2278.6" font-size="42.3">智</tspan><tspan x="1554.6" y="2278.6" font-size="41.3">能</tspan><tspan x="1601.6" y="2278.6" font-size="40.4">联</tspan><tspan x="1650.6" y="2278.6" font-size="39.4">网</tspan><tspan x="1697.7" y="2278.7" font-size="38.5">报</tspan><tspan x="1744.3" y="2278.7" font-size="37.6">警</tspan><tspan x="1787.7" y="2278.7" font-size="36.7">专</tspan><tspan x="1831.3" y="2278.7" font-size="35.9">家</tspan></text>
</g>
<g id="title" fill="#000">
<text class="k" font-size="137" y="187"><tspan x="93" y="181.5" font-size="143" textLength="67.3" lengthAdjust="spacingAndGlyphs" stroke="#000" stroke-width="3.5">L</tspan><tspan x="185.5 347.5 510.5 671.5" y="187">型墙张力</tspan><tspan x="839.8" y="184" font-size="153" textLength="37.2" lengthAdjust="spacingAndGlyphs">|</tspan><tspan x="906.5 1069.5 1228.5 1392.5 1554.5 1716.5" y="187">围栏安装图解</tspan></text>
</g>
<g id="intro" font-size="42" letter-spacing="8.7" fill="#111">
<text x="95" y="305"><tspan class="k" fill="#f50a0a">注意：</tspan>围墙笔直，高低起伏落差不明显，<tspan fill="#f50a0a">且整个防区内有拐弯抹角</tspan></text>
<text x="95" y="365.5">的环境按下图结构安装即可，杆只需要配置终端杆、拐角滑轮杆和</text>
<text x="95" y="426">中间/<tspan dx="4.5">过</tspan>线<tspan fill="#f50a0a">杆3<tspan dx="4">种</tspan></tspan>。</text>
</g>
</svg>
</body>
</html>
